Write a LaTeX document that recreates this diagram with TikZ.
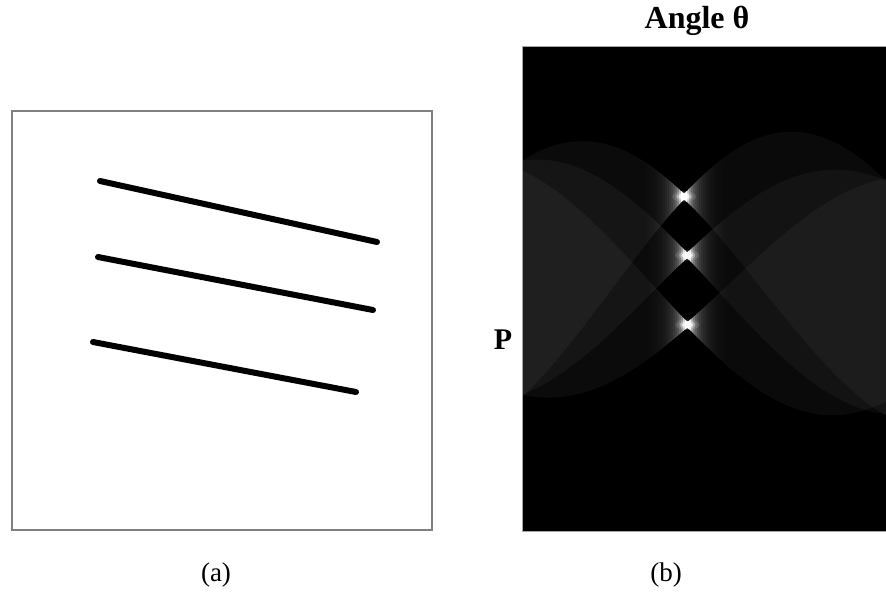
\documentclass[tikz,border=0pt]{standalone}
\usepackage{fontspec}
\setmainfont{Liberation Serif}
\begin{document}
\begin{tikzpicture}[x=1pt,y=-1pt,
  framebox/.style={draw=black!50, line width=2pt},
  segline/.style={line width=6pt, line cap=round, black},
  bigbold/.style={font=\fontsize{32}{36}\selectfont\bfseries, inner sep=0pt},
  caplabel/.style={font=\fontsize{27}{32}\selectfont, inner sep=0pt},
  layer/.style={white, fill opacity=#1}]
\useasboundingbox (0,0) rectangle (886,600);
\fill[white] (0,0) rectangle (886,600);
% ---- panel (a)
\draw[framebox] (12,110.5) rectangle (432,530);
\draw[segline] (100,181) -- (377,242);
\draw[segline] (98,257) -- (373,310);
\draw[segline] (93,342) -- (356,392);
% ---- panel (b)
\fill[black] (522,46) rectangle (886,531);
\def\kk{0.826}
\def\yc{287}
\def\AA{0.042}
\begin{scope}
\clip (522,46) rectangle (886,531);
\foreach \xa/\ya/\xb/\yb in {100/181/377/242, 98/257/373/310, 93/342/356/392}{
  \pgfmathsetmacro\Xa{\xa-222}
  \pgfmathsetmacro\Ya{320-\ya}
  \pgfmathsetmacro\Xb{\xb-222}
  \pgfmathsetmacro\Yb{320-\yb}
  \pgfmathsetmacro\Ln{veclen(\xb-\xa,\yb-\ya)}
  \pgfmathsetmacro\tz{atan2(\ya-\yb,\xb-\xa)+90}
  \pgfmathtruncatemacro\cc{round(\tz)}
  \pgfmathtruncatemacro\cm{\cc-1}
  \pgfmathtruncatemacro\cp{\cc+1}
  \foreach \u in {-4,-3,...,179}{
    \pgfmathsetmacro\ra{\Xa*cos(\u)+\Ya*sin(\u)}
    \pgfmathsetmacro\rb{\Xb*cos(\u)+\Yb*sin(\u)}
    \pgfmathsetmacro\tp{\yc-\kk*max(\ra,\rb)-2.5}
    \pgfmathsetmacro\bt{\yc-\kk*min(\ra,\rb)+2.5}
    \pgfmathsetmacro\dd{min(1,\AA/(sin(min(abs(\u+0.5-\tz),90))+6/\Ln))}
    \pgfmathsetmacro\xx{529+2*\u}
    \expandafter\xdef\csname xX\u\endcsname{\xx}
    \expandafter\xdef\csname yT\u\endcsname{\tp}
    \expandafter\xdef\csname yB\u\endcsname{\bt}
    \expandafter\xdef\csname dD\u\endcsname{\dd}
  }
  % left half: layers from outside inward
  \xdef\dprev{0}
  \foreach \t in {-4,-3,...,\cm}{
    \edef\dj{\csname dD\t\endcsname}
    \pgfmathsetmacro\bj{1-(1-\dj)/max(1-\dprev,0.0001)}
    \ifdim\dprev pt<0.999pt
      \fill[layer=\bj] ({\csname xX\t\endcsname}, {\csname yT\t\endcsname})
        \foreach \u in {\t,...,\cp}{ -- ({\csname xX\u\endcsname}, {\csname yT\u\endcsname})}
        \foreach \u in {\cp,\cc,...,\t}{ -- ({\csname xX\u\endcsname}, {\csname yB\u\endcsname})} -- cycle;
    \fi
    \xdef\dprev{\dj}
  }
  % right half
  \xdef\dprev{0}
  \foreach \t in {178,177,...,\cp}{
    \pgfmathtruncatemacro\tq{\t+1}
    \edef\dj{\csname dD\t\endcsname}
    \pgfmathsetmacro\bj{1-(1-\dj)/max(1-\dprev,0.0001)}
    \ifdim\dprev pt<0.999pt
      \fill[layer=\bj] ({\csname xX\cm\endcsname}, {\csname yT\cm\endcsname})
        \foreach \u in {\cm,...,\tq}{ -- ({\csname xX\u\endcsname}, {\csname yT\u\endcsname})}
        \foreach \u in {\tq,\t,...,\cm}{ -- ({\csname xX\u\endcsname}, {\csname yB\u\endcsname})} -- cycle;
    \fi
    \xdef\dprev{\dj}
  }
  % glow of the peak
  \pgfmathsetmacro\sx{529+2*\tz}
  \pgfmathsetmacro\sy{\yc-\kk*(\Xa*cos(\tz)+\Ya*sin(\tz))}
  \fill[white, fill opacity=0.12] (\sx,\sy) ellipse (12 and 5.5);
  \fill[white, fill opacity=0.3] (\sx,\sy) ellipse (8 and 4);
  \fill[white, fill opacity=0.7] (\sx,\sy) ellipse (5.5 and 3);
}
\end{scope}
\draw[black!35, line width=1pt] (886,46) -- (522,46) -- (522,531) -- (886,531);
% ---- labels
\node[bigbold] (angle) at (697,21) {Angle θ};
\node[bigbold, font=\fontsize{30}{34}\selectfont\bfseries] (plabel) at (503,340) {P};
\node[caplabel] (capa) at (216,575) {(a)};
\node[caplabel] (capb) at (666,575) {(b)};
\end{tikzpicture}
\end{document}
